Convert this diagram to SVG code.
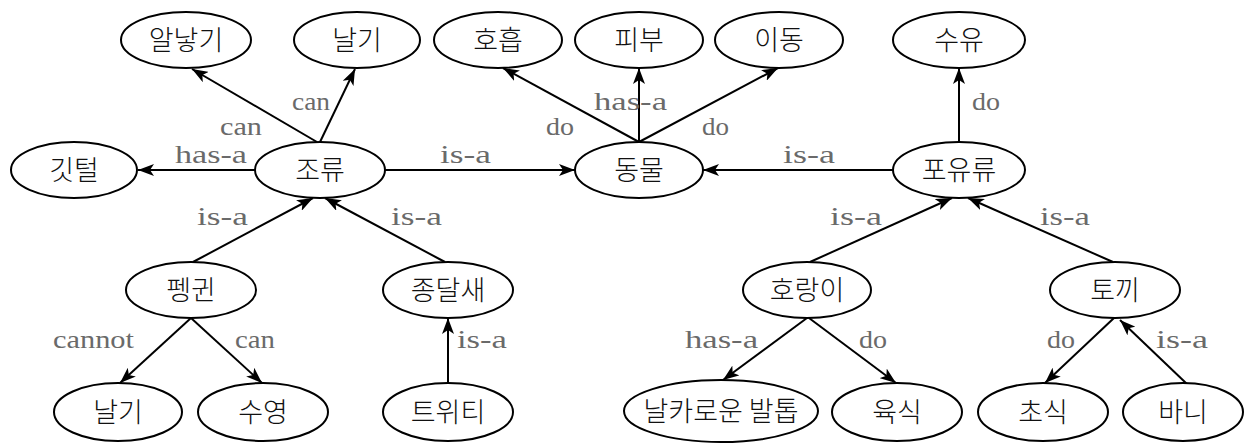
<svg xmlns="http://www.w3.org/2000/svg" width="1244" height="445" viewBox="0 0 1244 445">
<style>
.node ellipse{fill:#fff;stroke:#000;stroke-width:2}
.node text{font-family:"Noto Sans CJK KR","Noto Sans",sans-serif;font-size:27px;font-weight:300;fill:#111;text-anchor:middle}
.edges line{stroke:#000;stroke-width:2;marker-end:url(#ah)}
.lbl{font-family:"Liberation Serif","Times New Roman",serif;font-size:26px;fill:#6a6a6a}
</style>
<defs>
<marker id="ah" markerUnits="userSpaceOnUse" markerWidth="18" markerHeight="12" refX="16" refY="6" orient="auto">
<path d="M0,0 L16,6 L0,12 L4,6 z" fill="#000"/>
</marker>
</defs>
<rect width="1244" height="445" fill="#fff"/>
<g class="edges" id="connectors">
<line x1="317" y1="142" x2="192" y2="69"/>
<line x1="320" y1="142" x2="355" y2="69"/>
<line x1="255" y1="170" x2="138" y2="170"/>
<line x1="385" y1="170" x2="575" y2="170"/>
<line x1="639" y1="142" x2="503" y2="68"/>
<line x1="639" y1="142" x2="639" y2="68"/>
<line x1="639" y1="142" x2="778" y2="68"/>
<line x1="893" y1="170" x2="703" y2="170"/>
<line x1="959" y1="142" x2="959" y2="68"/>
<line x1="193" y1="262" x2="313" y2="198"/>
<line x1="445" y1="262" x2="325" y2="198"/>
<line x1="810" y1="262" x2="952" y2="198"/>
<line x1="1113" y1="262" x2="968" y2="198"/>
<line x1="191" y1="318" x2="120" y2="383"/>
<line x1="191" y1="318" x2="262" y2="383"/>
<line x1="448" y1="383" x2="448" y2="318"/>
<line x1="807" y1="318" x2="723" y2="380"/>
<line x1="809" y1="318" x2="896" y2="383"/>
<line x1="1114" y1="318" x2="1045" y2="383"/>
<line x1="1187" y1="384" x2="1120" y2="320"/>
</g>
<g id="labels">
<text class="lbl" x="220" y="135" textLength="42" lengthAdjust="spacingAndGlyphs">can</text>
<text class="lbl" x="292" y="110" textLength="38" lengthAdjust="spacingAndGlyphs">can</text>
<text class="lbl" x="175" y="163" textLength="72" lengthAdjust="spacingAndGlyphs">has-a</text>
<text class="lbl" x="440" y="163" textLength="51" lengthAdjust="spacingAndGlyphs">is-a</text>
<text class="lbl" x="546" y="135" textLength="28" lengthAdjust="spacingAndGlyphs">do</text>
<text class="lbl" x="594" y="110" textLength="73" lengthAdjust="spacingAndGlyphs">has-a</text>
<text class="lbl" x="702" y="135" textLength="27" lengthAdjust="spacingAndGlyphs">do</text>
<text class="lbl" x="783" y="163" textLength="52" lengthAdjust="spacingAndGlyphs">is-a</text>
<text class="lbl" x="972" y="110" textLength="28" lengthAdjust="spacingAndGlyphs">do</text>
<text class="lbl" x="197" y="225" textLength="51" lengthAdjust="spacingAndGlyphs">is-a</text>
<text class="lbl" x="391" y="225" textLength="51" lengthAdjust="spacingAndGlyphs">is-a</text>
<text class="lbl" x="830" y="225" textLength="52" lengthAdjust="spacingAndGlyphs">is-a</text>
<text class="lbl" x="1040" y="225" textLength="50" lengthAdjust="spacingAndGlyphs">is-a</text>
<text class="lbl" x="53" y="348" textLength="81" lengthAdjust="spacingAndGlyphs">cannot</text>
<text class="lbl" x="235" y="348" textLength="40" lengthAdjust="spacingAndGlyphs">can</text>
<text class="lbl" x="457" y="348" textLength="50" lengthAdjust="spacingAndGlyphs">is-a</text>
<text class="lbl" x="685" y="348" textLength="73" lengthAdjust="spacingAndGlyphs">has-a</text>
<text class="lbl" x="859" y="348" textLength="28" lengthAdjust="spacingAndGlyphs">do</text>
<text class="lbl" x="1047" y="348" textLength="28" lengthAdjust="spacingAndGlyphs">do</text>
<text class="lbl" x="1156" y="348" textLength="52" lengthAdjust="spacingAndGlyphs">is-a</text>
</g>
<g class="node" id="n-alnatgi"><ellipse cx="186" cy="40" rx="65" ry="28"/><text x="186" y="50">알낳기</text></g>
<g class="node" id="n-nalgi1"><ellipse cx="357" cy="40" rx="63" ry="28"/><text x="357" y="50">날기</text></g>
<g class="node" id="n-hoheup"><ellipse cx="498" cy="40" rx="64" ry="28"/><text x="498" y="50">호흡</text></g>
<g class="node" id="n-pibu"><ellipse cx="639" cy="40" rx="64" ry="28"/><text x="639" y="50">피부</text></g>
<g class="node" id="n-idong"><ellipse cx="779" cy="40" rx="64" ry="28"/><text x="779" y="50">이동</text></g>
<g class="node" id="n-suyu"><ellipse cx="959" cy="40" rx="66" ry="28"/><text x="959" y="50">수유</text></g>
<g class="node" id="n-gitteol"><ellipse cx="74" cy="170" rx="63" ry="28"/><text x="74" y="180">깃털</text></g>
<g class="node" id="n-joryu"><ellipse cx="320" cy="170" rx="65" ry="28"/><text x="320" y="180">조류</text></g>
<g class="node" id="n-dongmul"><ellipse cx="639" cy="170" rx="64" ry="28"/><text x="639" y="180">동물</text></g>
<g class="node" id="n-poyuryu"><ellipse cx="959" cy="170" rx="66" ry="28"/><text x="959" y="180">포유류</text></g>
<g class="node" id="n-penguin"><ellipse cx="191" cy="290" rx="65" ry="28"/><text x="191" y="300">펭귄</text></g>
<g class="node" id="n-jongdalsae"><ellipse cx="448" cy="290" rx="65" ry="28"/><text x="448" y="300">종달새</text></g>
<g class="node" id="n-horangi"><ellipse cx="807" cy="290" rx="64" ry="28"/><text x="807" y="300">호랑이</text></g>
<g class="node" id="n-tokki"><ellipse cx="1115" cy="290" rx="65" ry="28"/><text x="1115" y="300">토끼</text></g>
<g class="node" id="n-nalgi2"><ellipse cx="118" cy="412" rx="64" ry="29"/><text x="118" y="422">날기</text></g>
<g class="node" id="n-suyeong"><ellipse cx="263" cy="412" rx="65" ry="29"/><text x="263" y="422">수영</text></g>
<g class="node" id="n-tweety"><ellipse cx="448" cy="412" rx="65" ry="29"/><text x="448" y="422">트위티</text></g>
<g class="node" id="n-baltop"><ellipse cx="721" cy="411" rx="97" ry="31"/><text x="721" y="421">날카로운 발톱</text></g>
<g class="node" id="n-yuksik"><ellipse cx="897" cy="412" rx="65" ry="29"/><text x="897" y="422">육식</text></g>
<g class="node" id="n-chosik"><ellipse cx="1043" cy="412" rx="65" ry="29"/><text x="1043" y="422">초식</text></g>
<g class="node" id="n-bani"><ellipse cx="1183" cy="412" rx="60" ry="29"/><text x="1183" y="422">바니</text></g>
</svg>
